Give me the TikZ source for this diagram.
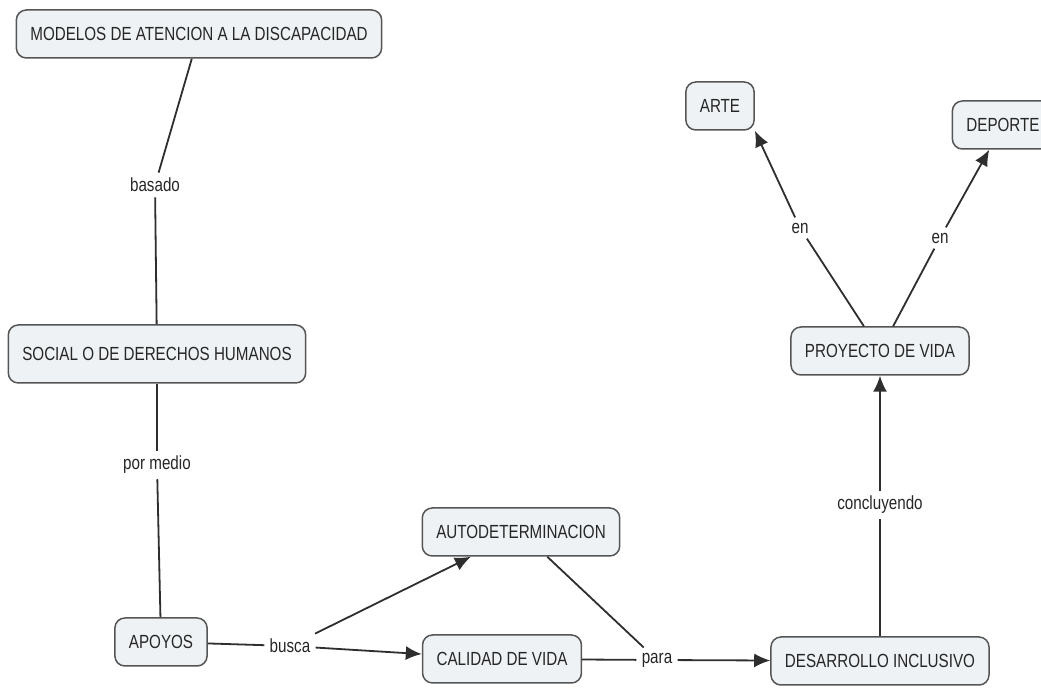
\documentclass[tikz,border=0pt]{standalone}
\usepackage{fontspec}
\setmainfont{Liberation Sans}[FakeStretch=0.8]
\usetikzlibrary{arrows.meta,positioning}
\definecolor{boxfill}{HTML}{EEF2F4}
\definecolor{boxline}{HTML}{555555}
\definecolor{linkline}{HTML}{2E2E2E}

\begin{document}
\begin{tikzpicture}[x=0.5pt, y=-0.5pt, font=\fontsize{9.5}{11}\selectfont,
   concept/.style={draw=boxline, fill=boxfill, rounded corners=5pt, line width=0.75pt,
                   inner xsep=7pt, minimum height=24pt, text=black!85},
   linkword/.style={inner sep=2.5pt, text=black!85},
   link/.style={draw=linkline, line width=0.9pt},
   arrow/.style={link, -{Latex[length=8pt,width=7pt]}}]
\useasboundingbox (0,0) rectangle (1041,688);
\clip (0,0) rectangle (1041,688);

% concepts
\node[concept] (modelos) at (199,34) {MODELOS DE ATENCION A LA DISCAPACIDAD};
\node[concept, minimum height=29pt] (social) at (157,354) {SOCIAL O DE DERECHOS HUMANOS};
\node[concept] (apoyos) at (161,642) {APOYOS};
\node[concept] (autodet) at (521,532) {AUTODETERMINACION};
\node[concept] (calidad) at (502,659) {CALIDAD DE VIDA};
\node[concept] (desarrollo) at (880,661) {DESARROLLO INCLUSIVO};
\node[concept] (proyecto) at (880,351) {PROYECTO DE VIDA};
\node[concept] (arte) at (720,106) {ARTE};
\node[concept] (deporte) at (1003,125) {DEPORTE};

% linking words
\node[linkword] (basado) at (155,185) {basado};
\node[linkword] (medio) at (157,465) {por medio};
\node[linkword] (busca) at (290,646) {busca};
\node[linkword] (para) at (657,660) {para};
\node[linkword] (concl) at (880,505) {concluyendo};
\node[linkword] (enA) at (800,228) {en};
\node[linkword] (enD) at (940,238) {en};

% plain lines
\foreach \a/\b in {modelos/basado, basado/social, social/medio, medio/apoyos,
                   apoyos/busca, autodet/para, calidad/para, desarrollo/concl,
                   proyecto/enA, proyecto/enD}
   \draw[link] (\a) -- (\b);

% arrows
\draw[arrow] (busca) -- (autodet);
\draw[arrow] (busca) -- (calidad);
\draw[arrow] (para) -- (desarrollo);
\draw[arrow] (concl) -- (proyecto);
\draw[arrow] (enA) -- (arte.south east);
\draw[arrow] (enD) -- (deporte);
\end{tikzpicture}
\end{document}
